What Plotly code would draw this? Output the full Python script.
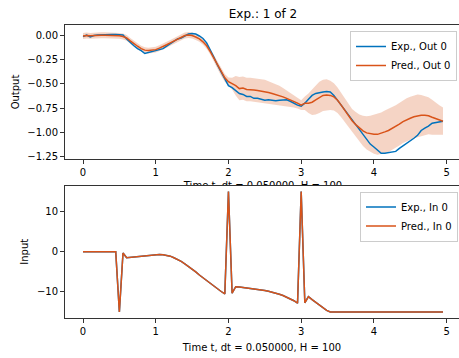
import plotly.graph_objects as go

# ---------------- data ----------------
DT = 0.05
H = 100
t = [round(i * DT, 2) for i in range(H)]

exp_out = [
    -0.017, 0.0, -0.02, -0.005, 0.0, 0.003, 0.004, 0.005, 0.005, 0.005,
    0.004, 0.0, -0.04, -0.08, -0.11, -0.14, -0.16, -0.19, -0.18, -0.175,
    -0.165, -0.155, -0.14, -0.115, -0.09, -0.06, -0.04, -0.03, -0.01, 0.01,
    0.015, 0.01, -0.01, -0.035, -0.08, -0.15, -0.23, -0.31, -0.38, -0.45,
    -0.52, -0.54, -0.57, -0.60, -0.61, -0.63, -0.63, -0.65, -0.65, -0.66,
    -0.67, -0.665, -0.67, -0.675, -0.67, -0.67, -0.665, -0.68, -0.70, -0.72,
    -0.73, -0.70, -0.66, -0.62, -0.60, -0.59, -0.585, -0.58, -0.585, -0.62,
    -0.67, -0.72, -0.77, -0.82, -0.87, -0.92, -0.98, -1.03, -1.08, -1.12,
    -1.15, -1.18, -1.215, -1.215, -1.21, -1.205, -1.195, -1.165, -1.14, -1.11,
    -1.085, -1.06, -1.03, -0.98, -0.955, -0.935, -0.905, -0.90, -0.89, -0.885,
]

pred_out = [
    -0.01, -0.005, -0.008, -0.004, -0.003, -0.002, -0.002, -0.003, -0.004, -0.005,
    -0.008, -0.015, -0.03, -0.06, -0.09, -0.115, -0.14, -0.155, -0.16, -0.155,
    -0.15, -0.135, -0.12, -0.10, -0.08, -0.06, -0.04, -0.02, -0.005, 0.0,
    -0.005, -0.02, -0.04, -0.07, -0.11, -0.17, -0.24, -0.31, -0.38, -0.44,
    -0.48, -0.50, -0.52, -0.55, -0.545, -0.56, -0.56, -0.565, -0.57, -0.575,
    -0.58, -0.59, -0.60, -0.61, -0.62, -0.635, -0.65, -0.665, -0.68, -0.70,
    -0.72, -0.70, -0.70, -0.69, -0.665, -0.64, -0.62, -0.615, -0.62, -0.635,
    -0.67, -0.72, -0.775, -0.83, -0.88, -0.92, -0.955, -0.985, -1.005, -1.015,
    -1.02, -1.02, -1.01, -0.995, -0.98, -0.96, -0.94, -0.915, -0.89, -0.87,
    -0.855, -0.84, -0.83, -0.825, -0.825, -0.83, -0.845, -0.86, -0.87, -0.885,
]

pred_std = [
    0.03, 0.03, 0.03, 0.03, 0.03, 0.03, 0.03, 0.03, 0.03, 0.03,
    0.03, 0.03, 0.03, 0.03, 0.03, 0.03, 0.03, 0.03, 0.03, 0.03,
    0.03, 0.03, 0.03, 0.03, 0.03, 0.03, 0.03, 0.03, 0.03, 0.03,
    0.03, 0.03, 0.03, 0.03, 0.03, 0.03, 0.035, 0.035, 0.04, 0.04,
    0.045, 0.06, 0.10, 0.12, 0.12, 0.12, 0.12, 0.12, 0.12, 0.12,
    0.12, 0.115, 0.11, 0.105, 0.10, 0.09, 0.08, 0.07, 0.065, 0.055,
    0.05, 0.07, 0.10, 0.13, 0.15, 0.16, 0.16, 0.16, 0.15, 0.14,
    0.13, 0.125, 0.12, 0.12, 0.12, 0.13, 0.14, 0.155, 0.17, 0.185,
    0.20, 0.21, 0.215, 0.22, 0.22, 0.22, 0.22, 0.22, 0.22, 0.22,
    0.22, 0.22, 0.22, 0.21, 0.20, 0.19, 0.18, 0.165, 0.15, 0.14,
]

exp_in = [
    0, 0, 0, 0, 0, 0, 0, 0, 0, 0,
    -15, -0.3, -1.5, -1.4, -1.3, -1.2, -1.1, -1.0, -0.9, -0.8,
    -0.75, -0.7, -0.75, -0.9, -1.1, -1.5, -1.9, -2.4, -3.0, -3.6,
    -4.3, -5.0, -5.8, -6.5, -7.3, -8.0, -8.7, -9.3, -9.9, -10.5,
    15, -10.3, -8.7, -8.8, -8.9, -9.0, -9.1, -9.2, -9.35, -9.5,
    -9.65, -9.85, -10.05, -10.3, -10.6, -10.9, -11.3, -11.7, -12.2, -12.8,
    15, -12.7, -11.2, -11.9, -12.6, -13.3, -14.0, -14.6, -15, -15,
    -15, -15, -15, -15, -15, -15, -15, -15, -15, -15,
    -15, -15, -15, -15, -15, -15, -15, -15, -15, -15,
    -15, -15, -15, -15, -15, -15, -15, -15, -15, -15,
]
pred_in = list(exp_in)

TITLE = "Exp.: 1 of 2"
XLABEL = "Time t, dt = 0.050000, H = 100"
OUT_TICKS = [0.0, -0.25, -0.5, -0.75, -1.0, -1.25]
IN_TICKS = [-10, 0, 10]
X_TICKS = [0, 1, 2, 3, 4, 5]

# ---------------- style ----------------
BLUE = "#0072BD"
ORANGE = "#D95319"
BAND = "rgba(217,83,25,0.25)"
FONT = "DejaVu Sans"
SPINE = "#333333"

W, HGT = 459, 358
ML, MR, MT, MB = 65, 0, 25, 40
PH = HGT - MT - MB
XR = [-0.2475, 5.17]
X_MID = (-0.2475 + 5.1975) / 2
YR_TOP = [-1.273, 0.103]
YR_BOT = [-16.5, 16.5]
TOP_DOM = [0.5427, 1.0]
BOT_DOM = [0.0, 0.4522]
# thin helper strip carrying the upper x label (centre ~27 px under the upper axes)
LBL_DOM = [(HGT - MB - 196) / PH, (HGT - MB - 176) / PH]

upper = [m + s for m, s in zip(pred_out, pred_std)]
lower = [m - s for m, s in zip(pred_out, pred_std)]

fig = go.Figure()

# ---- upper axes: output ----
fig.add_trace(go.Scatter(x=t, y=upper, mode="lines", line=dict(width=0, color=BAND),
                         showlegend=False, hoverinfo="skip", xaxis="x", yaxis="y"))
fig.add_trace(go.Scatter(x=t, y=lower, mode="lines", line=dict(width=0, color=BAND),
                         fill="tonexty", fillcolor=BAND,
                         showlegend=False, hoverinfo="skip", xaxis="x", yaxis="y"))
fig.add_trace(go.Scatter(x=t, y=exp_out, mode="lines", name="Exp., Out 0",
                         line=dict(color=BLUE, width=1.5), xaxis="x", yaxis="y", legend="legend"))
fig.add_trace(go.Scatter(x=t, y=pred_out, mode="lines", name="Pred., Out 0",
                         line=dict(color=ORANGE, width=1.5), xaxis="x", yaxis="y", legend="legend"))

# ---- upper x label, partly hidden behind the lower axes as in the original ----
fig.add_trace(go.Scatter(x=[X_MID], y=[0.5], mode="text", text=[XLABEL],
                         textposition="middle center", textfont=dict(family=FONT, size=10, color="black"),
                         cliponaxis=False, showlegend=False, hoverinfo="skip", xaxis="x2", yaxis="y2"))

# ---- lower axes: input ----
fig.add_trace(go.Scatter(x=t, y=exp_in, mode="lines", name="Exp., In 0",
                         line=dict(color=BLUE, width=1.5), xaxis="x3", yaxis="y3", legend="legend2"))
fig.add_trace(go.Scatter(x=t, y=pred_in, mode="lines", name="Pred., In 0",
                         line=dict(color=ORANGE, width=1.5), xaxis="x3", yaxis="y3", legend="legend2"))

# white face of the lower axes
fig.add_shape(type="rect", xref="x3", yref="y3", x0=XR[0], x1=XR[1], y0=YR_BOT[0], y1=YR_BOT[1],
              fillcolor="white", line=dict(width=0), layer="below")

axis_common = dict(showgrid=False, zeroline=False, showline=True, linecolor=SPINE, linewidth=1,
                   ticks="outside", ticklen=4, tickwidth=1, tickcolor=SPINE,
                   tickfont=dict(family=FONT, size=10, color="black"), automargin=False)

fig.update_layout(
    width=W, height=HGT,
    margin=dict(l=ML, r=MR, t=MT, b=MB),
    paper_bgcolor="white", plot_bgcolor="rgba(0,0,0,0)",
    font=dict(family=FONT, size=10, color="black"),
    title=dict(text=TITLE, x=0.5025, xref="paper", xanchor="center", y=1 - 14 / HGT, yref="container",
               yanchor="middle", font=dict(family=FONT, size=12, color="black")),
    xaxis=dict(domain=[0, 1], range=XR, tickvals=X_TICKS, mirror=True, anchor="y", **axis_common),
    yaxis=dict(domain=TOP_DOM, range=YR_TOP, tickvals=OUT_TICKS, tickformat=".2f", anchor="x",
               title=dict(text="Output", standoff=5, font=dict(family=FONT, size=10)), **axis_common),
    xaxis2=dict(domain=[0, 1], range=XR, visible=False, anchor="y2"),
    yaxis2=dict(domain=LBL_DOM, range=[0, 1], visible=False, anchor="x2"),
    xaxis3=dict(domain=[0, 1], range=XR, tickvals=X_TICKS, mirror=True, anchor="y3",
                title=dict(text=XLABEL, standoff=7, font=dict(family=FONT, size=10)), **axis_common),
    yaxis3=dict(domain=BOT_DOM, range=YR_BOT, tickvals=IN_TICKS, anchor="x3",
                title=dict(text="Input", standoff=6, font=dict(family=FONT, size=10)), **axis_common),
    legend=dict(x=(350 - ML) / (W - ML - MR), y=TOP_DOM[1] - 6 / PH, xanchor="left", yanchor="top",
                bgcolor="white", bordercolor="#cccccc", borderwidth=1, itemwidth=30, traceorder="normal",
                font=dict(family=FONT, size=10, color="black")),
    legend2=dict(x=(360 - ML) / (W - ML - MR), y=BOT_DOM[1] - 6 / PH, xanchor="left", yanchor="top",
                 bgcolor="white", bordercolor="#cccccc", borderwidth=1, itemwidth=30, traceorder="normal",
                 font=dict(family=FONT, size=10, color="black")),
    showlegend=True,
)

fig.write_html("out.html")
